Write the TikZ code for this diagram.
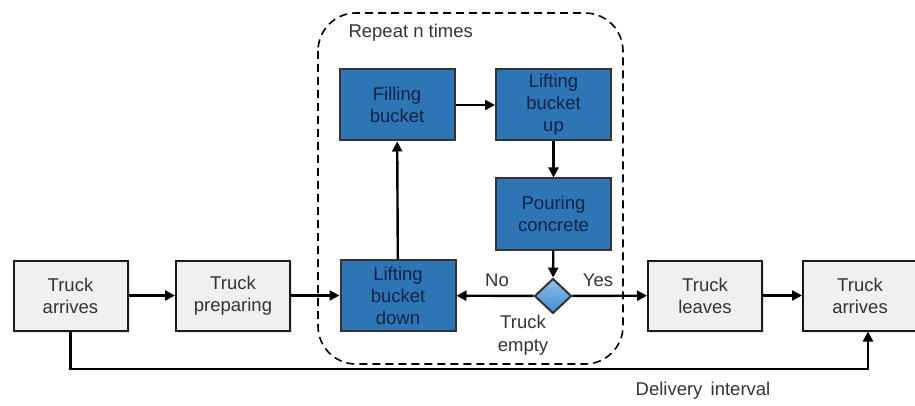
\documentclass[tikz,border=0pt]{standalone}
\usepackage{fontspec}
\setmainfont{Liberation Sans}
\usetikzlibrary{shapes.geometric,arrows.meta,shadows}
\definecolor{bluebox}{RGB}{46,117,182}
\definecolor{bluetext}{RGB}{20,35,70}
\definecolor{graybox}{RGB}{240,240,240}
\definecolor{diamondblue}{RGB}{60,140,210}
\begin{document}
\begin{tikzpicture}[x=1pt,y=-1pt,
  every node/.style={font=\fontsize{18.5}{22}\selectfont, align=center},
  graystep/.style={draw=black!90, line width=2pt, fill=graybox, drop shadow={shadow xshift=2pt, shadow yshift=-2pt, opacity=0.2}, minimum width=114pt, minimum height=70pt, inner sep=0pt, text=black!80},
  bluestep/.style={draw=black!80, line width=2pt, fill=bluebox, minimum width=115pt, minimum height=71pt, inner sep=0pt, text=bluetext},
  decision/.style={diamond, draw=black!80, line width=2pt, top color=diamondblue!55!white, bottom color=diamondblue, minimum width=37pt, minimum height=35pt, inner sep=0pt},
  flow/.style={line width=2.4pt, -{Triangle[length=10pt,width=10pt]}},
  lbl/.style={text=black!80}
]
\useasboundingbox (0,0) rectangle (915,406);
% dashed repeat region
\draw[line width=1.6pt, dash pattern=on 8pt off 5pt, rounded corners=38pt] (318,13) rectangle (623,364);
\node[lbl, anchor=west] (rep) at (345,33) {Repeat n times};
% nodes
\node[graystep] (ta1) at (70.5,295.5) {Truck\\arrives};
\node[graystep] (tp) at (233,295.5) {Truck\\preparing};
\node[bluestep] (lbd) at (398,295.5) {Lifting\\bucket\\down};
\node[bluestep] (fb) at (397,105) {Filling\\bucket};
\node[bluestep] (lbu) at (553.5,105) {Lifting\\bucket\\up};
\node[bluestep] (pc) at (553.5,214) {Pouring\\concrete};
\node[decision] (te) at (553,296) {};
\node[graystep] (tl) at (705,295.5) {Truck\\leaves};
\node[graystep] (ta2) at (860,295.5) {Truck\\arrives};
% labels
\node[lbl] (no) at (497,280) {No};
\node[lbl] (yes) at (598,280) {Yes};
\node[lbl, font=\fontsize{18.5}{23}\selectfont] (tetxt) at (523,335) {Truck\\empty};
\node[lbl] (di) at (703,391) {Delivery\, interval};
% connectors
\draw[flow] (ta1) -- (tp);
\draw[flow] (tp) -- (lbd);
\draw[flow] (lbd) -- (fb);
\draw[flow] (fb) -- (lbu);
\draw[flow] (lbu) -- (pc);
\draw[flow] (pc) -- (te);
\draw[flow] (te) -- (lbd);
\draw[flow] (te) -- (tl);
\draw[flow] (tl) -- (ta2);
\draw[flow] (ta1.south) |- (868,369) -- (ta2.south -| 868,0);
\end{tikzpicture}
\end{document}
